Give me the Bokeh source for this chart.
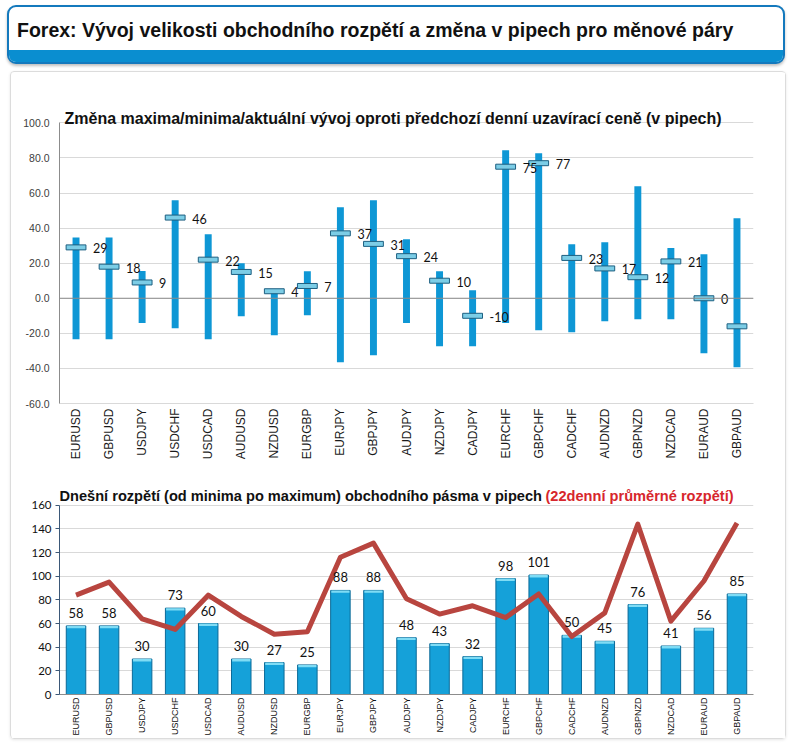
import math
from bokeh.plotting import figure
from bokeh.layouts import column
from bokeh.models import Range1d, FixedTicker, NumeralTickFormatter, Span, Label, Div
from bokeh.core.properties import value
from bokeh.embed import file_html
from bokeh.resources import INLINE

# ---------------- data ----------------
pairs = ["EURUSD", "GBPUSD", "USDJPY", "USDCHF", "USDCAD", "AUDUSD", "NZDUSD",
         "EURGBP", "EURJPY", "GBPJPY", "AUDJPY", "NZDJPY", "CADJPY", "EURCHF",
         "GBPCHF", "CADCHF", "AUDNZD", "GBPNZD", "NZDCAD", "EURAUD", "GBPAUD"]
change_high = [34.6, 34.6, 15.6, 55.9, 36.5, 20.0, 5.0, 15.4, 51.9, 55.9, 33.6,
               15.4, 4.6, 84.4, 82.7, 30.8, 31.9, 63.9, 28.7, 25.1, 45.6]
change_low = [-23.4, -23.4, -14.1, -17.1, -23.4, -10.3, -21.1, -9.7, -36.5, -32.5, -14.1,
              -27.4, -27.4, -14.1, -18.2, -19.4, -13.1, -12.0, -12.0, -31.4, -39.3]
change_now = [29, 18, 9, 46, 22, 15, 4, 7, 37, 31, 24, 10, -10, 75, 77, 23, 17, 12, 21, 0, -16]
range_today = [58, 58, 30, 73, 60, 30, 27, 25, 88, 88, 48, 43, 32, 98, 101, 50, 45, 76, 41, 56, 85]
range_avg22 = [84, 95, 64, 55, 84, 66, 51, 53, 116, 128, 81, 68, 75, 65, 85, 49, 69, 144, 62, 96, 145]
top_ticks = [-60, -40, -20, 0, 20, 40, 60, 80, 100]
bottom_ticks = [0, 20, 40, 60, 80, 100, 120, 140, 160]

main_title = "Forex: Vývoj velikosti obchodního rozpětí a změna v pipech pro měnové páry"
top_title = "Změna maxima/minima/aktuální vývoj oproti předchozí denní uzavírací ceně (v pipech)"
bottom_title = "Dnešní rozpětí (od minima po maximum) obchodního pásma v pipech"
bottom_title_red = "(22denní průměrné rozpětí)"

W = 786
CW = 774
BL, BR = 48, 32   # both chart frames are aligned by the column layout
SANS = "Liberation Sans"
NUM = "Lato"

# ---------------- header ----------------
header_html = (
    '<div style="box-sizing:border-box;position:relative;margin-left:2px;width:778px;height:59px;'
    'border:2px solid #1479bd;border-radius:9px;overflow:hidden;background:#ffffff;'
    'box-shadow:0 2px 3px rgba(0,0,0,0.25);">'
    '<div style="position:absolute;left:8px;top:12px;white-space:nowrap;'
    "font-family:'Liberation Sans',Arial,sans-serif;font-weight:bold;font-size:19.5px;"
    'line-height:normal;color:#111111;">' + main_title + '</div>'
    '<div style="position:absolute;left:0;right:0;bottom:0;height:12px;'
    'background:#0a8ed0;"></div></div>'
)
hdr = Div(text=header_html, width=W, height=61)

# ---------------- top chart ----------------
H1 = 402
top = figure(width=CW, height=H1, x_range=pairs, y_range=Range1d(-60, 111.6),
             output_backend="svg", toolbar_location=None,
             min_border_left=BL, min_border_right=BR, min_border_top=30,
             min_border_bottom=71, outline_line_color=None)
top.yaxis.ticker = FixedTicker(ticks=top_ticks)
top.yaxis.bounds = (-60, 100)
top.yaxis.formatter = NumeralTickFormatter(format="0.0")
top.yaxis.major_label_text_font = SANS
top.yaxis.major_label_text_font_size = "10.5px"
top.yaxis.major_label_text_color = "#404040"
top.yaxis.major_tick_line_color = None
top.yaxis.major_tick_out = 0
top.yaxis.major_tick_in = 0
top.yaxis.minor_tick_line_color = None
top.yaxis.axis_line_color = "#8c8c8c"
top.yaxis.major_label_standoff = 10
top.ygrid.ticker = FixedTicker(ticks=top_ticks)
top.ygrid.grid_line_color = "#d9d9d9"
top.xgrid.visible = False
top.xaxis.major_label_orientation = math.pi / 2
top.xaxis.major_label_text_font = SANS
top.xaxis.major_label_text_font_size = "12px"
top.xaxis.major_label_text_color = "#1a1a1a"
top.xaxis.axis_line_color = "#d9d9d9"
top.xaxis.major_tick_line_color = None
top.xaxis.major_tick_out = 0
top.xaxis.major_tick_in = 0
top.xaxis.major_label_standoff = 5
top.add_layout(Span(location=0, dimension="width", line_color="#8c8c8c", line_width=1))

top.vbar(x=pairs, bottom=change_low, top=change_high, width=0.21,
         fill_color="#0e97d5", line_color=None)
top.rect(x=pairs, y=change_now, width=0.6, height=5, height_units="screen",
         fill_color="#7ccde6", line_color="#1d5f80", line_width=1)
top.text(x=pairs, y=change_now, text=[str(v) for v in change_now], x_offset=17, y_offset=1,
         text_align="left", text_baseline="middle", text_font=value(NUM),
         text_font_size="12.5px", text_color="#111111")
top.add_layout(Label(x=5, y=285, x_units="screen", y_units="screen", text=top_title,
                     text_font=SANS, text_font_style="bold", text_font_size="16px",
                     text_color="#111111", text_baseline="alphabetic"))

# ---------------- bottom chart ----------------
H2 = 264
bot = figure(width=CW, height=H2, x_range=pairs, y_range=Range1d(0, 180.1),
             output_backend="svg", toolbar_location=None,
             min_border_left=BL, min_border_right=BR, min_border_top=7,
             min_border_bottom=42, outline_line_color=None)
bot.yaxis.ticker = FixedTicker(ticks=bottom_ticks)
bot.yaxis.bounds = (0, 160)
bot.yaxis.major_label_text_font = NUM
bot.yaxis.major_label_text_font_size = "11.5px"
bot.yaxis.major_label_text_color = "#111111"
bot.yaxis.axis_line_color = "#3b5878"
bot.yaxis.major_tick_line_color = "#3b5878"
bot.yaxis.major_tick_in = 0
bot.yaxis.major_tick_out = 4
bot.yaxis.minor_tick_line_color = None
bot.yaxis.major_label_standoff = 4
bot.ygrid.ticker = FixedTicker(ticks=bottom_ticks)
bot.ygrid.grid_line_color = "#d9d9d9"
bot.xgrid.visible = False
bot.xaxis.major_label_orientation = math.pi / 2
bot.xaxis.major_label_text_font = SANS
bot.xaxis.major_label_text_font_size = "9px"
bot.xaxis.major_label_text_color = "#111111"
bot.xaxis.axis_line_color = "#8c8c8c"
bot.xaxis.major_tick_line_color = None
bot.xaxis.major_tick_out = 0
bot.xaxis.major_tick_in = 0
bot.xaxis.major_label_standoff = 3

bot.vbar(x=pairs, top=range_today, width=0.59, fill_color="#15a1d9",
         line_color="#0b6a98", line_width=1)
bot.vbar(x=pairs, bottom=[v - 2 for v in range_today], top=range_today, width=0.55,
         fill_color="#7fdcf5", line_color=None)
bot.line(x=pairs, y=range_avg22, line_color="#b8453f", line_width=5, line_join="round")
bot.text(x=pairs, y=range_today, text=[str(v) for v in range_today], y_offset=-8,
         text_align="center", text_baseline="bottom", text_font=value(NUM),
         text_font_size="13px", text_color="#111111")
bot.add_layout(Label(x=0, y=199, x_units="screen", y_units="screen", text=bottom_title,
                     text_font=SANS, text_font_style="bold", text_font_size="14.6px",
                     text_color="#111111", text_baseline="alphabetic"))
bot.add_layout(Label(x=486, y=199, x_units="screen", y_units="screen", text=bottom_title_red,
                     text_font=SANS, text_font_style="bold", text_font_size="14.6px",
                     text_color="#d7262c", text_baseline="alphabetic"))

charts = column(top, bot, spacing=0,
                styles={"border": "1px solid #dcdcdc", "border-radius": "4px",
                        "margin-left": "10px",
                        "box-shadow": "0 1px 3px rgba(0,0,0,0.10)"})
layout = column(hdr, charts, spacing=0)
open("out.html", "w").write(file_html(layout, INLINE))
